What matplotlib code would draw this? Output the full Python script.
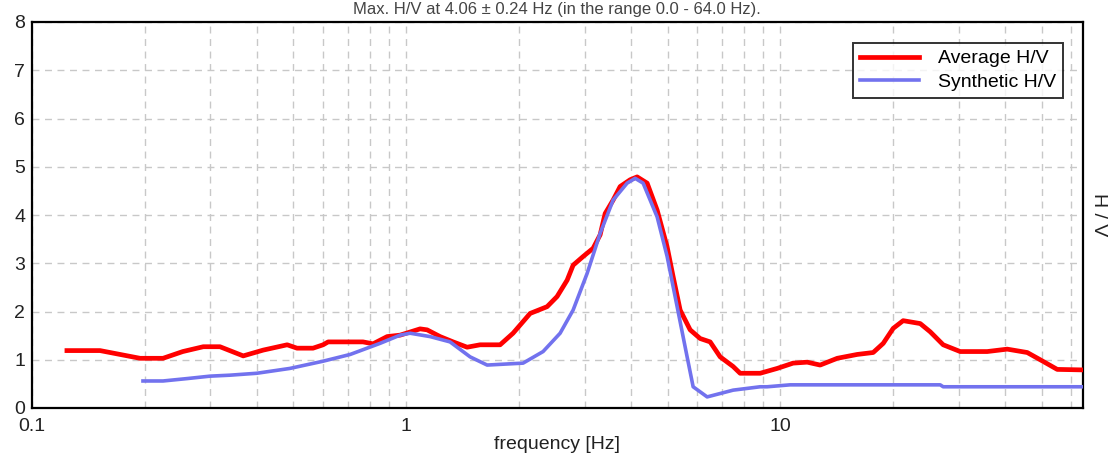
import matplotlib
matplotlib.use("Agg")
import matplotlib.pyplot as plt
from matplotlib.ticker import LogLocator, FixedLocator, NullFormatter

plt.rcParams['font.family'] = ['Liberation Sans', 'DejaVu Sans']

# ===============================
# Data
# ===============================
avg_freq = [0.124, 0.152, 0.1945, 0.224, 0.253, 0.287, 0.318, 0.367, 0.415, 0.481,
            0.511, 0.564, 0.600, 0.619, 0.767, 0.816, 0.890, 0.964, 1.090, 1.138,
            1.233, 1.336, 1.456, 1.577, 1.784, 1.932, 2.146, 2.382, 2.533, 2.695,
            2.796, 2.974, 3.162, 3.302, 3.405, 3.577, 3.734, 3.971, 4.146, 4.410,
            4.690, 4.987, 5.175, 5.403, 5.746, 6.111, 6.499, 6.912, 7.486, 7.816,
            8.843, 9.817, 10.83, 11.81, 12.79, 14.21, 16.07, 17.73, 18.86, 20.05,
            21.32, 23.68, 25.18, 27.28, 30.29, 35.77, 40.46, 45.76, 49.57, 55.04,
            64.0]
avg_hv = [1.19, 1.19, 1.03, 1.03, 1.17, 1.27, 1.27, 1.08, 1.20, 1.31,
          1.24, 1.24, 1.31, 1.37, 1.37, 1.33, 1.48, 1.51, 1.64, 1.62,
          1.48, 1.37, 1.26, 1.31, 1.31, 1.55, 1.96, 2.10, 2.31, 2.65,
          2.96, 3.14, 3.31, 3.59, 4.03, 4.31, 4.59, 4.73, 4.79, 4.66,
          4.10, 3.34, 2.72, 2.03, 1.62, 1.44, 1.37, 1.06, 0.86, 0.72,
          0.72, 0.82, 0.93, 0.95, 0.89, 1.03, 1.11, 1.15, 1.34, 1.65,
          1.81, 1.75, 1.58, 1.31, 1.17, 1.17, 1.22, 1.15, 1.00, 0.80,
          0.79]

syn_freq = [0.198, 0.224, 0.260, 0.299, 0.338, 0.399, 0.489, 0.600, 0.709, 0.852,
            0.964, 1.025, 1.159, 1.311, 1.483, 1.647, 2.055, 2.324, 2.581, 2.796,
            3.048, 3.302, 3.577, 3.898, 4.096, 4.302, 4.690, 4.987, 5.304, 5.640,
            5.853, 6.380, 7.486, 8.843, 9.231, 10.63, 26.78, 27.28, 64.0]
syn_hv = [0.56, 0.56, 0.61, 0.66, 0.68, 0.72, 0.82, 0.97, 1.11, 1.34,
          1.51, 1.55, 1.48, 1.37, 1.06, 0.89, 0.93, 1.17, 1.55, 2.03,
          2.79, 3.62, 4.31, 4.66, 4.76, 4.66, 3.96, 3.14, 2.10, 1.06,
          0.44, 0.23, 0.37, 0.44, 0.44, 0.48, 0.48, 0.44, 0.44]

title = "Max. H/V at 4.06 \u00b1 0.24 Hz (in the range 0.0 - 64.0 Hz)."
x_ticks = [0.1, 1, 10]
x_tick_labels = ["0.1", "1", "10"]
y_ticks = [0, 1, 2, 3, 4, 5, 6, 7, 8]

# ===============================
# Figure
# ===============================
fig = plt.figure(figsize=(11.17, 4.58), dpi=100)
ax = fig.add_axes([32 / 1117, 1 - 408 / 458, 1051 / 1117, 386 / 458])

ax.plot(avg_freq, avg_hv, color="#ff0000", lw=3.4, label="Average H/V", zorder=3)
ax.plot(syn_freq, syn_hv, color="#7272ee", lw=2.6, label="Synthetic H/V", zorder=4)

ax.set_xscale("log")
ax.set_xlim(0.1, 64.5)
ax.set_ylim(0, 8)

ax.xaxis.set_major_locator(FixedLocator(x_ticks))
ax.set_xticklabels(x_tick_labels)
ax.xaxis.set_minor_locator(LogLocator(base=10, subs=range(2, 10)))
ax.xaxis.set_minor_formatter(NullFormatter())
ax.set_yticks(y_ticks)

ax.grid(True, which="both", axis="x", color="#c8c8c8", ls=(0, (5, 4)), lw=1.0)
ax.grid(True, which="major", axis="y", color="#c8c8c8", ls=(0, (5, 4)), lw=1.0)

ax.tick_params(which="both", length=0, labelsize=14, colors="#222222")
ax.tick_params(axis="x", pad=7)
ax.tick_params(axis="y", pad=5)

for s in ax.spines.values():
    s.set_linewidth(1.6)
    s.set_color("black")

ax.set_xlabel("frequency [Hz]", fontsize=14, color="#222222", labelpad=1)
ax.yaxis.set_label_position("right")
ax.set_ylabel("H / V", fontsize=14, rotation=270, labelpad=17, color="#222222")

leg = ax.legend(loc="upper right", bbox_to_anchor=((1063 - 32) / 1051, 1 - 21 / 386),
                fontsize=14, frameon=True, fancybox=False, handlelength=3.0,
                borderpad=0.35, labelspacing=0.3, handletextpad=1.0, borderaxespad=0)
leg.get_frame().set_edgecolor("black")
leg.get_frame().set_linewidth(1.4)

fig.text(557 / 1117, 1 - 2 / 458, title, ha="center", va="top", fontsize=12, color="#444444")

fig.savefig("out.png", dpi=100)
